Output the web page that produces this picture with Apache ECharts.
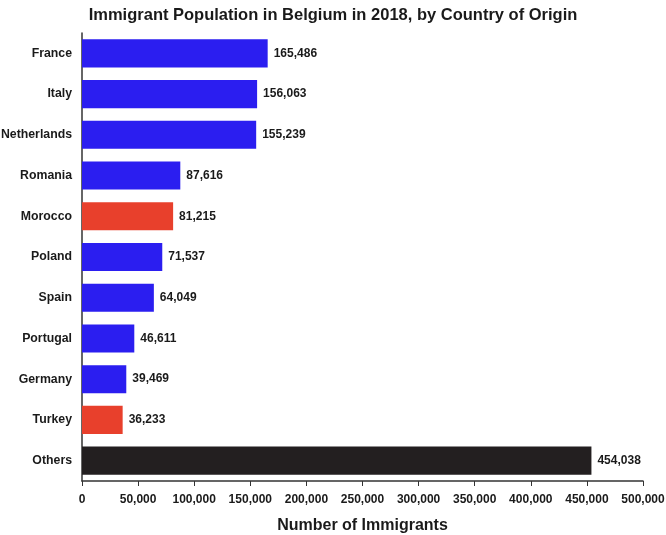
<!DOCTYPE html>
<html>
<head>
<meta charset="utf-8">
<script src="https://cdn.jsdelivr.net/npm/echarts@6/dist/echarts.min.js"></script>
<style>
  html, body { margin: 0; padding: 0; background: #fff; }
  #chart { width: 666px; height: 535px; }
</style>
</head>
<body>
<div id="chart"></div>
<script>
// countries, top to bottom as shown
const countries = ['France', 'Italy', 'Netherlands', 'Romania', 'Morocco', 'Poland', 'Spain', 'Portugal', 'Germany', 'Turkey', 'Others'];
const immigrants = [165486, 156063, 155239, 87616, 81215, 71537, 64049, 46611, 39469, 36233, 454038];
const barColors = ['#2b1ef0', '#2b1ef0', '#2b1ef0', '#2b1ef0', '#e8402c', '#2b1ef0', '#2b1ef0', '#2b1ef0', '#2b1ef0', '#e8402c', '#231f20'];

const font = 'Liberation Sans, Arial, sans-serif';

const chart = echarts.init(document.getElementById('chart'));
chart.setOption({
  animation: false,
  title: {
    text: 'Immigrant Population in Belgium in 2018, by Country of Origin',
    left: 'center',
    top: 2,
    textStyle: { fontFamily: font, fontSize: 16.5, fontWeight: 'bold', color: '#1a1a1a' },
  },
  grid: { left: 82, right: 23, top: 33, bottom: 54, containLabel: false, outerBoundsMode: 'none' },
  xAxis: {
    type: 'value',
    min: 0,
    max: 500000,
    interval: 50000,
    name: 'Number of Immigrants',
    nameLocation: 'middle',
    nameGap: 37,
    nameTextStyle: { fontFamily: font, fontSize: 16, fontWeight: 'bold', color: '#1a1a1a' },
    axisLine: { show: true, lineStyle: { color: '#333', width: 1.5 } },
    axisTick: { show: true, length: 5, lineStyle: { color: '#333' } },
    splitLine: { show: false },
    axisLabel: {
      fontFamily: font, fontSize: 12, fontWeight: 'bold', color: '#1a1a1a', margin: 13,
      formatter: v => v.toLocaleString('en-US'),
    },
  },
  yAxis: {
    type: 'category',
    inverse: true,
    data: countries,
    axisLine: { show: true, lineStyle: { color: '#333', width: 1.5 } },
    axisTick: { show: false },
    axisLabel: { fontFamily: font, fontSize: 12.3, fontWeight: 'bold', color: '#1a1a1a', margin: 10 },
  },
  series: [{
    type: 'bar',
    barCategoryGap: '31%',
    data: immigrants.map((v, i) => ({ value: v, itemStyle: { color: barColors[i] } })),
    label: {
      show: true,
      position: 'right',
      distance: 6,
      fontFamily: font, fontSize: 12, fontWeight: 'bold', color: '#1a1a1a',
      formatter: p => p.value.toLocaleString('en-US'),
    },
  }],
});
</script>
</body>
</html>
